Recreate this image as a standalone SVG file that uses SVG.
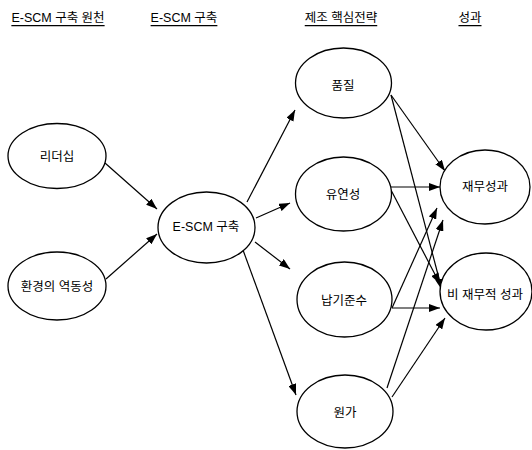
<svg xmlns="http://www.w3.org/2000/svg" width="532" height="450" viewBox="0 0 532 450">
<style>
text{font-family:"Liberation Sans","Noto Sans CJK KR",sans-serif;font-size:12.5px;fill:#000;text-anchor:middle;dominant-baseline:central}
.hdr{text-decoration:underline}
ellipse{fill:#fff;stroke:#000;stroke-width:1.3}
#connectors line{stroke:#000;stroke-width:1.2;marker-end:url(#arr)}
</style>
<defs>
<marker id="arr" markerUnits="userSpaceOnUse" markerWidth="11" markerHeight="8" refX="11" refY="4" orient="auto">
<path d="M0,0 L11,4 L0,8 z" fill="#000"/>
</marker>
</defs>
<rect width="532" height="450" fill="#fff"/>
<g id="headers">
<text class="hdr" x="58" y="18">E-SCM 구축 원천</text>
<text class="hdr" x="184" y="18">E-SCM 구축</text>
<text class="hdr" x="341" y="18">제조 핵심전략</text>
<text class="hdr" x="470" y="18">성과</text>
</g>
<g id="connectors">
<line x1="105" y1="163" x2="157" y2="209"/>
<line x1="106" y1="279" x2="157" y2="234"/>
<line x1="247" y1="202" x2="295" y2="110"/>
<line x1="256" y1="218" x2="290" y2="203"/>
<line x1="255" y1="242" x2="290" y2="269"/>
<line x1="243" y1="250" x2="296" y2="395"/>
<line x1="391" y1="95" x2="445" y2="171"/>
<line x1="391" y1="95" x2="442" y2="290"/>
<line x1="391" y1="187" x2="440" y2="187"/>
<line x1="391" y1="190" x2="440" y2="284"/>
<line x1="392" y1="308" x2="437" y2="208"/>
<line x1="392" y1="308" x2="440" y2="308"/>
<line x1="387" y1="388" x2="443" y2="220"/>
<line x1="392" y1="397" x2="445" y2="318"/>
</g>
<g id="n-leadership"><ellipse cx="57" cy="156" rx="49" ry="32.5"/><text x="57" y="157">리더십</text></g>
<g id="n-env"><ellipse cx="57" cy="286" rx="49" ry="34"/><text x="57" y="287">환경의 역동성</text></g>
<g id="n-escm"><ellipse cx="206.5" cy="227.5" rx="48.5" ry="35.5"/><text x="206" y="227">E-SCM 구축</text></g>
<g id="n-quality"><ellipse cx="343.5" cy="83" rx="48" ry="35"/><text x="343" y="86">품질</text></g>
<g id="n-flex"><ellipse cx="343.5" cy="194" rx="48" ry="37"/><text x="343" y="195">유연성</text></g>
<g id="n-delivery"><ellipse cx="344.5" cy="299.5" rx="47.5" ry="37.5"/><text x="344" y="301">납기준수</text></g>
<g id="n-cost"><ellipse cx="345" cy="411.5" rx="48" ry="36.5"/><text x="345" y="413">원가</text></g>
<g id="n-fin"><ellipse cx="485" cy="187" rx="45" ry="37"/><text x="485" y="187">재무성과</text></g>
<g id="n-nonfin"><ellipse cx="486" cy="291.5" rx="46" ry="38.5"/><text x="485" y="295">비 재무적 성과</text></g>
</svg>
